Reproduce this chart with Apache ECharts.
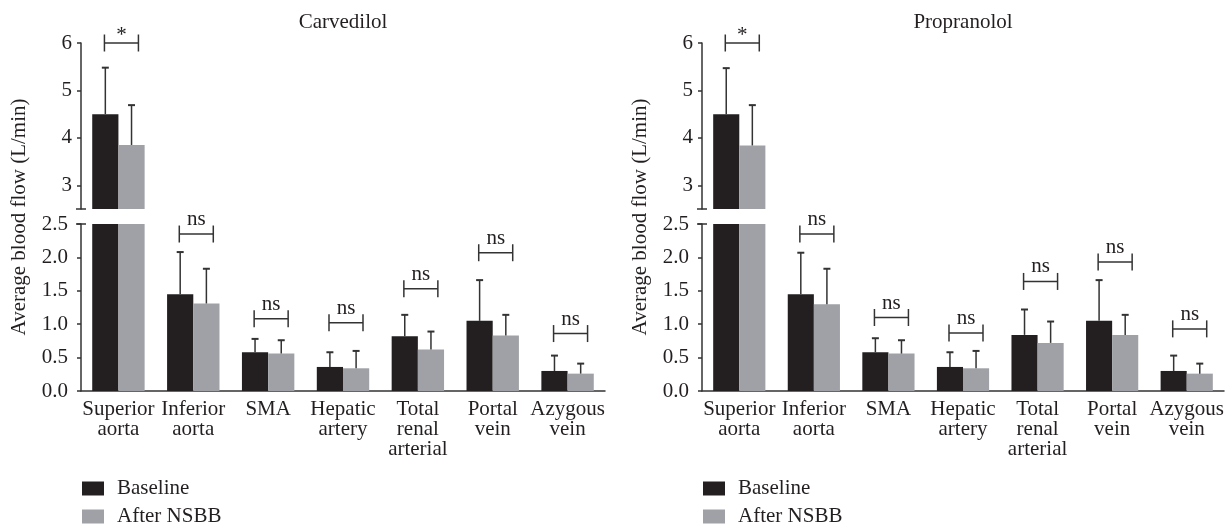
<!DOCTYPE html>
<html>
<head>
<meta charset="utf-8">
<script src="https://cdn.jsdelivr.net/npm/echarts@6/dist/echarts.min.js"></script>
<style>
html,body{margin:0;padding:0;background:#fff;}
#chart{width:1230px;height:527px;}
</style>
</head>
<body>
<div id="chart"></div>
<script>
// ---- data ----
const categories = ['Superior\naorta', 'Inferior\naorta', 'SMA', 'Hepatic\nartery', 'Total\nrenal\narterial', 'Portal\nvein', 'Azygous\nvein'];
const seriesNames = ['Baseline', 'After NSBB'];
const panelTitles = ['Carvedilol', 'Propranolol'];
const yAxisName = 'Average blood flow (L/min)';
const upperTicks = [3, 4, 5, 6];
const lowerTicks = [0, 0.5, 1.0, 1.5, 2.0, 2.5];

// Carvedilol
const carvBaseline = [4.50, 1.45, 0.58, 0.36, 0.82, 1.05, 0.30];
const carvBaselineSD = [0.98, 0.63, 0.20, 0.22, 0.32, 0.61, 0.23];
const carvAfter = [3.85, 1.31, 0.56, 0.34, 0.62, 0.83, 0.26];
const carvAfterSD = [0.84, 0.52, 0.20, 0.26, 0.27, 0.31, 0.15];
const carvSigLevel = [6.0, 2.35, 1.08, 1.02, 1.53, 2.07, 0.86];
const carvSigText = ['*', 'ns', 'ns', 'ns', 'ns', 'ns', 'ns'];

// Propranolol
const propBaseline = [4.50, 1.45, 0.58, 0.36, 0.84, 1.05, 0.30];
const propBaselineSD = [0.97, 0.62, 0.21, 0.22, 0.38, 0.61, 0.23];
const propAfter = [3.84, 1.30, 0.56, 0.34, 0.72, 0.84, 0.26];
const propAfterSD = [0.85, 0.53, 0.20, 0.26, 0.32, 0.30, 0.15];
const propSigLevel = [6.0, 2.35, 1.10, 0.87, 1.64, 1.93, 0.93];
const propSigText = ['*', 'ns', 'ns', 'ns', 'ns', 'ns', 'ns'];

const breakValue = 2.5;
const upperMax = 6;

// ---- styling ----
const FONT = '"Liberation Serif", "Times New Roman", serif';
const FS = 21;
const TXT = '#231f20';
const LINE = '#333333';
const COL_BASE = '#231f20';
const COL_AFTER = '#9fa1a6';

const panels = [
  { left: 81, width: 524, base: carvBaseline, baseSD: carvBaselineSD, after: carvAfter, afterSD: carvAfterSD, sig: carvSigLevel, sigText: carvSigText, title: panelTitles[0] },
  { left: 702, width: 522, base: propBaseline, baseSD: propBaselineSD, after: propAfter, afterSD: propAfterSD, sig: propSigLevel, sigText: propSigText, title: panelTitles[1] }
];

const grids = [], xAxes = [], yAxes = [], series = [], graphics = [], legends = [];

function errorRender(params, api) {
  const c = api.value(0), m = api.value(1), sd = api.value(2), s = api.value(3);
  const base = api.coord([c, m]);
  const top = api.coord([c, m + sd]);
  const band = api.size([1, 0])[0];
  const x = base[0] + (s === 0 ? -1 : 1) * band * 0.175;
  return {
    type: 'group',
    children: [
      { type: 'line', shape: { x1: x, y1: base[1], x2: x, y2: top[1] }, style: { stroke: LINE, lineWidth: 1.5 } },
      { type: 'line', shape: { x1: x - 3.5, y1: top[1], x2: x + 3.5, y2: top[1] }, style: { stroke: LINE, lineWidth: 2 } }
    ]
  };
}

function makeBracketRender(texts) {
  return function (params, api) {
    const c = api.value(0), v = api.value(1), idx = api.value(2);
    const p = api.coord([c, v]);
    const x = p[0] + 3, y = p[1];
    const t = texts[idx];
    return {
      type: 'group',
      children: [
        { type: 'line', shape: { x1: x - 17, y1: y, x2: x + 17, y2: y }, style: { stroke: LINE, lineWidth: 1.5 } },
        { type: 'line', shape: { x1: x - 17, y1: y - 8.5, x2: x - 17, y2: y + 8.5 }, style: { stroke: LINE, lineWidth: 1.5 } },
        { type: 'line', shape: { x1: x + 17, y1: y - 8.5, x2: x + 17, y2: y + 8.5 }, style: { stroke: LINE, lineWidth: 1.5 } },
        { type: 'text', x: x, y: t === '*' ? y + 3 : y - 4, style: { text: t, font: FS + 'px ' + FONT, fill: TXT, align: 'center', verticalAlign: 'bottom' } }
      ]
    };
  };
}

panels.forEach(function (P, pi) {
  const gU = grids.length, gL = gU + 1;
  grids.push({ left: P.left, width: P.width, top: 43, height: 166, outerBoundsMode: 'none', containLabel: false });
  grids.push({ left: P.left, width: P.width, top: 224, height: 167, outerBoundsMode: 'none', containLabel: false });

  xAxes.push({ type: 'category', gridIndex: gU, data: categories, show: false, boundaryGap: true });
  xAxes.push({
    type: 'category', gridIndex: gL, data: categories, boundaryGap: true,
    axisLine: { lineStyle: { color: LINE, width: 1.5 } },
    axisTick: { show: false },
    axisLabel: { interval: 0, color: TXT, fontFamily: FONT, fontSize: FS, lineHeight: 20, margin: 8, hideOverlap: false }
  });

  yAxes.push({
    type: 'value', gridIndex: gU, min: breakValue, max: upperMax, startValue: breakValue,
    splitLine: { show: false },
    axisLine: { show: true, lineStyle: { color: LINE, width: 1.5 }, symbol: ['rect', 'none'], symbolSize: [10, 1.5] },
    axisTick: { show: true, length: 4, customValues: upperTicks, lineStyle: { color: LINE, width: 1.5 } },
    axisLabel: { customValues: upperTicks, color: TXT, fontFamily: FONT, fontSize: FS, margin: 9 }
  });
  yAxes.push({
    type: 'value', gridIndex: gL, min: 0, max: breakValue, interval: 0.5,
    splitLine: { show: false },
    axisLine: { show: true, lineStyle: { color: LINE, width: 1.5 }, symbol: ['none', 'rect'], symbolSize: [10, 1.5] },
    axisTick: { show: true, length: 4, lineStyle: { color: LINE, width: 1.5 } },
    axisLabel: { color: TXT, fontFamily: FONT, fontSize: FS, margin: 13, formatter: function (v) { return v.toFixed(1); } }
  });

  const xU = gU, xL = gL, yU = gU, yL = gL;
  const upperBase = P.base.map(function (v) { return v > breakValue ? v : '-'; });
  const upperAfter = P.after.map(function (v) { return v > breakValue ? v : '-'; });

  [[xU, yU, upperBase, upperAfter], [xL, yL, P.base, P.after]].forEach(function (a) {
    series.push({ type: 'bar', name: seriesNames[0], xAxisIndex: a[0], yAxisIndex: a[1], data: a[2], barGap: '0%', barCategoryGap: '30%', itemStyle: { color: COL_BASE }, clip: true, silent: true });
    series.push({ type: 'bar', name: seriesNames[1], xAxisIndex: a[0], yAxisIndex: a[1], data: a[3], barGap: '0%', barCategoryGap: '30%', itemStyle: { color: COL_AFTER }, clip: true, silent: true });
  });

  // error bars
  const errU = [], errL = [];
  [[P.base, P.baseSD, 0], [P.after, P.afterSD, 1]].forEach(function (s) {
    s[0].forEach(function (m, i) {
      const item = [i, m, s[1][i], s[2]];
      if (m > breakValue) errU.push(item);
      else if (m + s[1][i] <= breakValue) errL.push(item);
    });
  });
  series.push({ type: 'custom', xAxisIndex: xU, yAxisIndex: yU, data: errU, renderItem: errorRender, encode: { x: 0, y: 1 }, z: 5, silent: true });
  series.push({ type: 'custom', xAxisIndex: xL, yAxisIndex: yL, data: errL, renderItem: errorRender, encode: { x: 0, y: 1 }, z: 5, silent: true });

  // significance brackets
  const brU = [], brL = [];
  P.sig.forEach(function (v, i) {
    if (v > breakValue) brU.push([i, v, i]); else brL.push([i, v, i]);
  });
  const br = makeBracketRender(P.sigText);
  series.push({ type: 'custom', xAxisIndex: xU, yAxisIndex: yU, data: brU, renderItem: br, encode: { x: 0, y: 1 }, z: 6, clip: false, silent: true });
  series.push({ type: 'custom', xAxisIndex: xL, yAxisIndex: yL, data: brL, renderItem: br, encode: { x: 0, y: 1 }, z: 6, clip: false, silent: true });

  graphics.push({ type: 'text', x: P.left + P.width / 2, y: 22, style: { text: P.title, font: FS + 'px ' + FONT, fill: TXT, align: 'center', verticalAlign: 'middle' } });
  graphics.push({ type: 'text', x: P.left - 62, y: 217, rotation: Math.PI / 2, style: { text: yAxisName, font: FS + 'px ' + FONT, fill: TXT, align: 'center', verticalAlign: 'middle' } });

  legends.push({
    data: seriesNames, orient: 'vertical', left: P.left + 1, top: 478, padding: 0,
    itemWidth: 22, itemHeight: 14, itemGap: 7, icon: 'rect', selectedMode: false,
    textStyle: { color: TXT, fontFamily: FONT, fontSize: FS, lineHeight: 20, padding: [0, 0, 0, 8] }
  });
});

const chart = echarts.init(document.getElementById('chart'), null, { renderer: 'canvas' });
chart.setOption({
  animation: false,
  backgroundColor: '#fff',
  textStyle: { fontFamily: FONT },
  grid: grids,
  xAxis: xAxes,
  yAxis: yAxes,
  legend: legends,
  series: series,
  graphic: graphics
});
</script>
</body>
</html>
